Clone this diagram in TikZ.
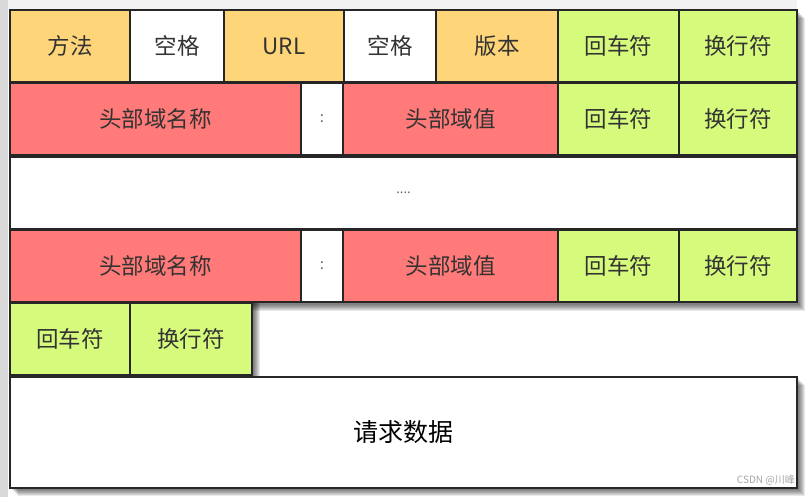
\documentclass[tikz,border=0pt]{standalone}
\usepackage{fontspec}
\setmainfont{Noto Sans CJK SC}
\definecolor{fieldorange}{HTML}{FFD57A}
\definecolor{headred}{HTML}{FF7A78}
\definecolor{crlfgreen}{HTML}{D6FA7C}
\tikzset{
  cell/.style={draw=black!85,line width=1.8pt,anchor=north west,inner sep=0pt,outer sep=0pt,
    minimum height=72pt,text=black!80,font=\fontsize{22.5}{26}\selectfont},
  fieldcell/.style={cell,fill=fieldorange},
  gapcell/.style={cell,fill=white},
  headcell/.style={cell,fill=headred},
  crlfcell/.style={cell,fill=crlfgreen},
  shade/.style={fill=black,opacity=.09}
}
\begin{document}
\begin{tikzpicture}[x=1pt,y=-1pt]
\useasboundingbox (0,0) rectangle (812,497);
\fill[white] (0,0) rectangle (812,497);
\fill[gray!30] (0,0) rectangle (8,497);
\fill[gray!10] (8,0) rectangle (797,9);
% soft shadows
\foreach \s in {2,...,8}{
  \fill[shade] (10+\s,10+\s) rectangle (797+\s,303+\s);
  \fill[shade] (10+\s,303) rectangle (252+\s,376+\s);
  \fill[shade] (10+\s,377+\s) rectangle (797+\s,488+\s);
}
% request line
\node[fieldcell,minimum width=120pt] (method) at (10,10) {方法};
\node[gapcell,minimum width=94pt] (space1) at (130,10) {空格};
\node[fieldcell,minimum width=120pt] (url) at (224,10) {URL};
\node[gapcell,minimum width=92pt] (space2) at (344,10) {空格};
\node[fieldcell,minimum width=122pt] (version) at (436,10) {版本};
\node[crlfcell,minimum width=121pt] (cr0) at (558,10) {回车符};
\node[crlfcell,minimum width=118pt] (lf0) at (679,10) {换行符};
% header lines
\foreach \r/\y in {1/83,2/230}{
  \node[headcell,minimum width=291pt] (hname\r) at (10,\y) {头部域名称};
  \node[gapcell,minimum width=42pt,font=\fontsize{15}{17}\selectfont,text=black!60] (colon\r) at (301,\y) {:};
  \node[headcell,minimum width=215pt] (hvalue\r) at (343,\y) {头部域值};
  \node[crlfcell,minimum width=121pt] (cr\r) at (558,\y) {回车符};
  \node[crlfcell,minimum width=118pt] (lf\r) at (679,\y) {换行符};
  \ifnum\r=1
    \node[gapcell,minimum width=787pt,font=\fontsize{13}{15}\selectfont,text=black!60] (more) at (10,157) {....};
  \fi
}
% blank line
\node[crlfcell,minimum width=120pt] (cr3) at (10,303) {回车符};
\node[crlfcell,minimum width=122pt] (lf3) at (130,303) {换行符};
% body
\node[gapcell,minimum width=787pt,minimum height=111pt,text=black,font=\fontsize{25}{28}\selectfont] (body) at (10,377) {请求数据};
\node[anchor=south east,inner sep=0pt,text=gray!70,font=\fontsize{10}{12}\selectfont] (mark) at (795,485) {CSDN @川峰};
\end{tikzpicture}
\end{document}
